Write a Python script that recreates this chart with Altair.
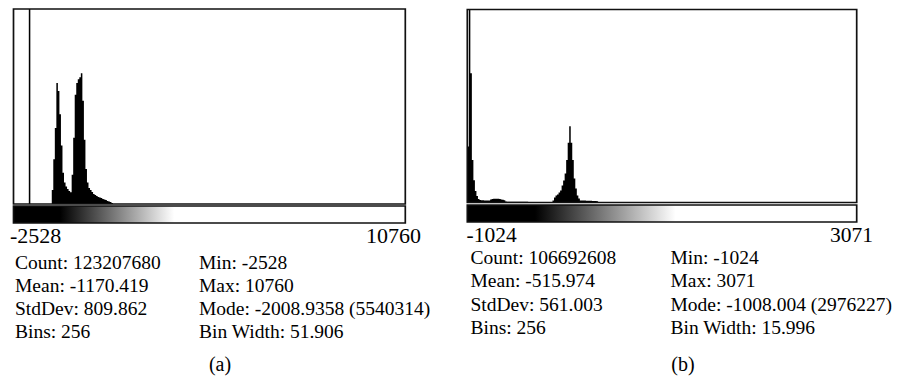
import altair as alt
import pandas as pd

FONT = "Liberation Serif"

# ---------------- Panel (a) ----------------
A_MIN, A_MAX = -2528, 10760
A_NBINS = 256
A_BIN_WIDTH = 51.906
A_MODE_BIN = 10
A_MODE_COUNT = 5540314
A_FIRST_BIN = 25
A_COUNTS = [398900, 1274300, 2160700, 3435000, 3213400, 2548500, 1662100, 886500,
            609400, 498600, 426600, 371200, 332400, 831000, 1883700, 3102600,
            3435000, 3545800, 3601200, 3712000, 2936400, 1828300, 997300, 609400,
            454300, 398900, 343500, 282600, 254900, 227200, 199500, 182800,
            171700, 144000, 127400, 110800, 83100, 72000, 55400, 27700]
A_STATS_LEFT = ["Count: 123207680", "Mean: -1170.419", "StdDev: 809.862", "Bins: 256"]
A_STATS_RIGHT = ["Min: -2528", "Max: 10760", "Mode: -2008.9358 (5540314)", "Bin Width: 51.906"]
A_CAPTION = "(a)"

# ---------------- Panel (b) ----------------
B_MIN, B_MAX = -1024, 3071
B_NBINS = 256
B_BIN_WIDTH = 15.996
B_MODE_BIN = 1
B_MODE_COUNT = 2976227
B_FIRST_BIN = 0
B_COUNTS = [863100, 2976227, 1994100, 654800, 342300, 178600, 101200, 53600,
            38700, 35700, 35700, 32700, 32700, 32700, 32700,
            44600, 53600, 59500, 59500, 59500, 56500, 53600, 47600, 41700, 35700,
            14900, 13400, 12500, 11900, 11900, 11900, 11300, 11300, 11300, 10700,
            10700, 10700, 10100, 10100, 10100, 9500, 9500, 9500, 8900, 8900,
            8900, 8900, 8900, 8900, 8900, 8900, 8900, 8900, 8900, 8900, 8900,
            29800, 77400, 107100, 125000, 154800, 184500, 262000, 339300, 446400,
            654800, 922600, 1175600, 922600, 654800, 372000, 217300, 107100, 62500,
            29800, 29800, 29800, 29800, 27000, 27000, 27000, 27000, 24000, 24000,
            24000, 20000]
B_STATS_LEFT = ["Count: 106692608", "Mean: -515.974", "StdDev: 561.003", "Bins: 256"]
B_STATS_RIGHT = ["Min: -1024", "Max: 3071", "Mode: -1008.004 (2976227)", "Bin Width: 15.996"]
B_CAPTION = "(b)"


def hist_df(mn, bw, nbins, first, counts, mode_bin, mode_count):
    full = [0] * nbins
    for k, c in enumerate(counts):
        full[first + k] = c
    full[mode_bin] = mode_count
    starts = [mn + i * bw for i in range(nbins)] + [mn + nbins * bw]
    return pd.DataFrame({"start": starts, "count": full + [0]})


def panel(df, mn, mx, ymax, xr, yr, bar_y, stops):
    xs = alt.Scale(domain=[mn, mx], range=xr, nice=False, zero=False)
    ys = alt.Scale(domain=[0, ymax], range=yr, nice=False, zero=False)
    one = pd.DataFrame({"k": [0]})
    hist = alt.Chart(df).mark_area(interpolate="step-after", color="black", clip=True).encode(
        x=alt.X("start:Q", scale=xs, axis=None),
        y=alt.Y("count:Q", scale=ys, axis=None),
    )
    frame = alt.Chart(one).mark_rect(filled=False, stroke="#111111", strokeWidth=1.7).encode(
        x=alt.datum(mn), x2=alt.datum(mx), y=alt.datum(0), y2=alt.datum(ymax)
    )
    grad = alt.Chart(one).mark_rect(
        fill=alt.Gradient(
            gradient="linear",
            stops=[alt.GradientStop(color=c, offset=o) for o, c in stops],
            x1=0, x2=1, y1=0, y2=0,
        ),
        stroke="#111111", strokeWidth=1.7,
    ).encode(x=alt.datum(mn), x2=alt.datum(mx), y=alt.value(bar_y[0]), y2=alt.value(bar_y[1]))
    return alt.layer(hist, frame, grad)


def text(lines, x, y, size, align="left", line_height=23):
    return alt.Chart(pd.DataFrame({"k": [0]})).mark_text(
        text=lines, font=FONT, fontSize=size, align=align, baseline="alphabetic",
        lineHeight=line_height, color="black",
    ).encode(x=alt.value(x), y=alt.value(y))


df_a = hist_df(A_MIN, A_BIN_WIDTH, A_NBINS, A_FIRST_BIN, A_COUNTS, A_MODE_BIN, A_MODE_COUNT)
df_b = hist_df(B_MIN, B_BIN_WIDTH, B_NBINS, B_FIRST_BIN, B_COUNTS, B_MODE_BIN, B_MODE_COUNT)

pa = panel(df_a, A_MIN, A_MAX, A_MODE_COUNT, [13.5, 405.3], [204, 9], (206, 223),
           [(0, "black"), (0.119, "black"), (0.41, "white"), (1, "white")])
pb = panel(df_b, B_MIN, B_MAX, B_MODE_COUNT, [467.3, 856.7], [202.5, 9.5], (205, 222),
           [(0, "black"), (0.174, "black"), (0.535, "white"), (1, "white")])

texts = [
    text(str(A_MIN), 10, 243, 22),
    text(str(A_MAX), 421, 243, 22, align="right"),
    text(A_STATS_LEFT, 15, 269, 19.5, line_height=23),
    text(A_STATS_RIGHT, 199, 269, 19.5, line_height=23),
    text(A_CAPTION, 220, 371, 20, align="center"),
    text(str(B_MIN), 466.5, 242, 21.5),
    text(str(B_MAX), 873, 242, 21.5, align="right"),
    text(B_STATS_LEFT, 470.5, 264, 19.5, line_height=23.3),
    text(B_STATS_RIGHT, 670.5, 264, 19.5, line_height=23.3),
    text(B_CAPTION, 683, 371, 20, align="center"),
]

chart = alt.layer(pa, pb, *texts).resolve_scale(
    x="independent", y="independent"
).properties(
    width=897, height=378, padding=0, autosize="none", background="white"
).configure_view(stroke=None)

chart.save("out.html", embed_options={"renderer": "svg", "actions": False})
